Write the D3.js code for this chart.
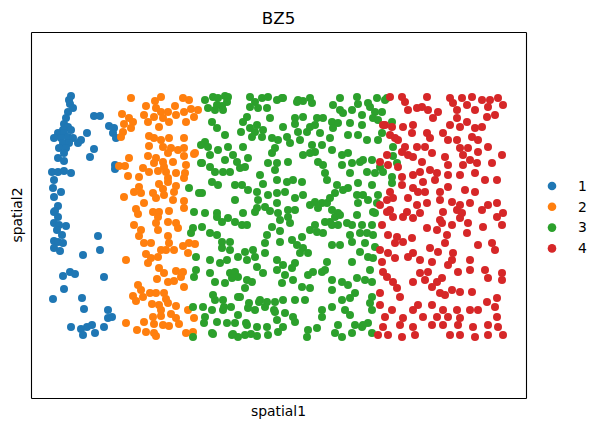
<!DOCTYPE html>
<html>
<head>
<meta charset="utf-8">
<script src="https://cdn.jsdelivr.net/npm/d3@7"></script>
<style>
  body { margin: 0; background: #fff; }
  text { font-family: "DejaVu Sans", sans-serif; fill: #000; }
</style>
</head>
<body>
<div id="chart"></div>
<script>
/* DATA: spatial coordinates per cluster */
const clusters = ["1", "2", "3", "4"];

const cluster1 = [
  [71,96],[69,100],[70,104],[73,108],[68,112],[66,118],[64,124],[68,127],[63,130],[71,130],
  [58,133],[64,133],[54,138],[61,138],[68,137],[73,138],[81,140],[63,143],[69,143],[78,143],
  [59,148],[66,148],[64,153],[58,158],[64,161],[87,133],[94,116],[100,116],[109,126],[114,128],
  [113,133],[116,138],[94,149],[90,157],[115,165],[115,169],[52,172],[58,172],[64,171],[71,173],
  [54,180],[53,188],[61,192],[54,197],[58,206],[55,211],[54,212],[58,217],[54,223],[59,225],
  [66,226],[57,230],[62,235],[54,241],[58,242],[63,243],[54,248],[60,251],[98,236],[100,250],
  [83,255],[63,276],[70,272],[75,274],[104,277],[64,289],[53,299],[82,298],[84,309],[108,310],
  [108,318],[112,317],[71,327],[81,329],[87,327],[92,325],[83,335],[95,333],[104,327]
];

const cluster2 = [
  [131,98],[146,106],[155,101],[161,97],[156,108],[161,112],[168,112],[175,106],[183,98],[189,100],
  [191,109],[184,112],[176,115],[198,110],[194,117],[186,122],[154,117],[163,118],[144,115],[148,122],
  [159,127],[169,122],[122,114],[129,118],[124,124],[133,122],[131,128],[123,132],[121,137],[149,136],
  [154,138],[161,140],[169,138],[184,138],[149,146],[163,147],[171,148],[178,150],[184,148],[168,153],
  [184,156],[194,154],[148,156],[156,158],[129,158],[154,163],[163,162],[173,162],[119,166],[125,166],
  [143,168],[149,172],[158,171],[164,167],[166,172],[176,173],[186,165],[185,173],[128,176],[139,177],
  [168,178],[184,178],[159,184],[168,182],[139,187],[176,186],[134,192],[141,193],[153,193],[163,189],
  [164,195],[174,192],[124,197],[156,198],[144,203],[173,200],[184,201],[136,209],[153,212],[159,212],
  [169,211],[184,208],[138,214],[158,217],[134,225],[156,223],[168,222],[176,223],[141,230],[158,230],
  [178,228],[139,236],[168,236],[144,243],[151,243],[169,243],[161,250],[166,250],[174,250],[183,246],
  [189,243],[195,244],[188,253],[146,254],[151,258],[158,257],[148,263],[126,260],[159,268],[164,273],
  [176,271],[183,272],[157,279],[168,282],[174,281],[181,277],[138,285],[141,290],[133,296],[136,301],
  [143,297],[150,293],[156,293],[164,293],[166,299],[152,304],[159,305],[168,303],[184,287],[176,306],
  [188,310],[161,310],[171,314],[153,317],[161,316],[176,318],[194,318],[144,322],[126,323],[154,324],
  [163,325],[169,326],[179,324],[137,330],[146,332],[154,333],[156,336],[186,333],[193,332],[195,153]
];

const cluster3 = [
  [205,100],[213,97],[218,98],[225,96],[228,97],[227,102],[222,106],[217,105],[215,110],[208,108],
  [223,110],[212,122],[217,128],[225,135],[250,97],[255,102],[262,98],[268,97],[277,100],[282,98],
  [250,107],[258,108],[267,108],[270,118],[247,117],[243,122],[250,128],[257,125],[255,132],[263,130],
  [252,137],[262,137],[241,132],[283,127],[287,137],[290,143],[272,138],[278,140],[297,102],[303,101],
  [310,98],[312,103],[295,118],[303,117],[295,124],[298,132],[307,132],[310,127],[317,118],[323,118],
  [315,125],[320,133],[300,140],[312,145],[322,145],[330,138],[332,122],[338,123],[333,128],[340,98],
  [333,105],[340,110],[343,113],[352,110],[357,97],[358,104],[362,115],[350,123],[358,135],[348,135],
  [205,142],[208,147],[202,163],[210,155],[218,150],[228,147],[243,147],[233,155],[237,162],[225,160],
  [215,172],[210,167],[223,172],[230,172],[240,168],[245,167],[248,158],[212,182],[218,185],[235,185],
  [242,185],[202,193],[235,200],[248,190],[257,192],[263,184],[260,175],[272,153],[275,148],[268,163],
  [277,163],[275,170],[288,162],[277,180],[287,182],[293,180],[302,182],[268,195],[277,193],[258,200],
  [257,208],[265,207],[277,203],[285,192],[295,198],[303,195],[310,205],[315,202],[322,203],[318,208],
  [327,203],[330,198],[337,185],[343,190],[335,193],[348,188],[358,183],[357,195],[358,203],[342,155],
  [348,153],[352,163],[360,162],[350,173],[323,165],[318,162],[315,152],[310,153],[303,155],[325,173],
  [327,180],[332,150],[342,165],[205,213],[217,213],[243,213],[270,211],[288,210],[295,210],[332,210],
  [338,213],[217,217],[222,222],[228,218],[235,222],[242,225],[247,225],[255,212],[278,213],[288,217],
  [290,223],[280,220],[272,227],[280,231],[267,235],[265,243],[280,242],[292,240],[297,245],[302,237],
  [303,248],[300,253],[308,253],[310,230],[315,225],[317,232],[323,233],[325,222],[330,222],[335,217],
  [340,215],[332,225],[338,225],[347,223],[357,215],[352,225],[360,233],[350,235],[352,242],[340,245],
  [332,245],[360,252],[352,262],[202,227],[210,233],[217,235],[222,242],[230,242],[222,248],[230,250],
  [210,260],[220,263],[227,260],[238,257],[245,252],[247,260],[253,250],[255,257],[265,253],[277,260],
  [283,265],[292,268],[295,263],[277,270],[257,267],[230,273],[235,272],[238,277],[232,278],[210,273],
  [247,280],[252,282],[263,273],[285,275],[293,280],[282,283],[302,287],[308,275],[313,272],[322,272],
  [327,262],[325,270],[332,280],[342,282],[348,285],[357,278],[355,293],[350,298],[342,300],[332,290],
  [310,288],[305,300],[295,300],[283,300],[275,302],[260,300],[267,302],[215,282],[225,283],[245,288],
  [240,297],[215,300],[223,300],[203,307],[212,310],[223,310],[238,315],[248,308],[255,310],[265,307],
  [275,312],[285,313],[293,317],[322,310],[332,307],[322,317],[345,310],[350,315],[205,317],[217,322],
  [227,323],[235,323],[247,325],[257,327],[267,327],[277,320],[283,327],[295,322],[308,330],[317,328],
  [338,325],[355,325],[362,327],[212,333],[232,335],[238,337],[245,335],[257,336],[268,335],[307,337],
  [335,333],[342,337],[352,333],[189,188],[199,193],[194,212],[201,145],[201,163],[193,228],[191,233],
  [196,257],[196,270],[194,277],[193,307],[193,337],[213,334],[233,334],[251,334],[278,332],[204,323],
  [213,295],[224,307],[231,307],[238,297],[249,303],[259,302],[274,310],[246,323],[283,98],[298,100],
  [377,98],[385,100],[370,107],[375,112],[382,112],[373,118],[378,120],[392,122],[362,125],[382,133],
  [367,140],[378,140],[393,147],[393,156],[363,160],[372,160],[397,163],[380,167],[367,172],[375,173],
  [383,172],[392,177],[392,183],[372,185],[363,195],[368,200],[378,195],[377,203],[373,212],[375,213],
  [362,225],[372,225],[367,233],[373,235],[365,243],[375,247],[368,257],[373,258],[370,270],[365,280],
  [372,282],[372,297],[370,303],[372,310],[368,323],[372,333],[363,325],[368,103],[387,98]
];

const cluster4 = [
  [390,97],[402,97],[405,102],[408,110],[417,108],[422,107],[428,110],[427,97],[438,112],[433,118],
  [450,98],[453,103],[462,98],[472,97],[467,105],[457,110],[475,110],[482,100],[490,100],[498,98],
  [503,105],[488,107],[495,115],[487,117],[457,118],[450,125],[460,127],[467,122],[475,128],[482,127],
  [385,125],[392,127],[403,127],[413,125],[412,133],[398,140],[390,135],[427,133],[430,138],[443,133],
  [448,140],[457,140],[472,137],[478,140],[425,147],[417,147],[405,147],[402,152],[408,155],[413,157],
  [387,155],[380,162],[388,165],[398,167],[422,162],[432,153],[445,157],[448,165],[460,148],[463,155],
  [468,148],[478,152],[488,147],[502,155],[492,163],[477,163],[470,160],[463,165],[475,173],[460,175],
  [430,170],[420,172],[413,175],[402,177],[437,173],[448,175],[423,182],[435,180],[402,185],[413,188],
  [418,192],[425,192],[440,192],[448,187],[465,190],[475,192],[497,180],[485,180],[390,192],[387,200],
  [393,198],[408,198],[417,205],[427,203],[440,200],[452,202],[460,205],[470,203],[488,205],[497,203],
  [380,205],[390,210],[407,212],[443,212],[457,210],[482,210],[503,213],[387,212],[393,217],[403,217],
  [413,218],[420,213],[440,220],[452,225],[460,218],[468,223],[462,213],[483,227],[497,217],[502,225],
  [382,225],[388,235],[397,237],[403,242],[412,238],[395,243],[380,250],[388,253],[395,258],[408,257],
  [413,253],[420,260],[432,262],[430,248],[438,252],[445,243],[453,253],[452,260],[448,265],[458,272],
  [470,260],[478,245],[492,243],[495,250],[467,233],[447,235],[437,230],[427,228],[442,223],[382,262],
  [383,272],[387,277],[393,282],[397,288],[400,297],[413,282],[420,273],[428,272],[425,280],[437,282],
  [442,278],[432,287],[440,293],[445,295],[452,290],[460,292],[472,292],[470,270],[485,270],[488,278],
  [502,273],[502,280],[487,302],[497,298],[495,307],[497,317],[470,310],[478,310],[473,327],[488,325],
  [498,327],[503,335],[380,293],[380,305],[385,317],[392,310],[403,318],[413,310],[418,305],[432,305],
  [423,317],[437,317],[448,317],[443,310],[457,310],[460,318],[458,325],[443,325],[432,325],[413,327],
  [400,325],[383,327],[388,335],[402,337],[415,335],[450,335],[460,335],[475,337],[488,335],[378,335],
  [383,125],[395,138]
];

const clusterColors = ["#1f77b4", "#ff7f0e", "#2ca02c", "#d62728"];

/* CONSTANTS */
const width = 601,
  height = 431,
  margin = { top: 32, bottom: 33, left: 31, right: 75 },
  radius = 4;

// axis limits in spatial units (like set_xlim / set_ylim)
const xLim = [31, 526];
const yLim = [32, 398];

const svg = d3.select("#chart")
  .append("svg")
  .attr("width", width)
  .attr("height", height);

const xScale = d3.scaleLinear()
  .domain(xLim)
  .range([margin.left, width - margin.right]);

// spatial2 grows downward, like an image
const yScale = d3.scaleLinear()
  .domain(yLim)
  .range([margin.top, height - margin.bottom]);

const colorScale = d3.scaleOrdinal()
  .domain(clusters)
  .range(clusterColors);

const points = [cluster1, cluster2, cluster3, cluster4]
  .flatMap((arr, i) => arr.map(d => ({ x: d[0], y: d[1], cluster: clusters[i] })));

// dots
svg.append("g")
  .selectAll("circle")
  .data(points)
  .join("circle")
  .attr("cx", d => xScale(d.x))
  .attr("cy", d => yScale(d.y))
  .attr("r", radius)
  .attr("fill", d => colorScale(d.cluster));

// frame: axes with no ticks
const x0 = margin.left, x1 = width - margin.right;
const y0 = margin.top, y1 = height - margin.bottom;
svg.append("g").attr("transform", `translate(0,${y1})`)
  .call(d3.axisBottom(xScale).tickValues([]).tickSizeOuter(0));
svg.append("g").attr("transform", `translate(0,${y0})`)
  .call(d3.axisTop(xScale).tickValues([]).tickSizeOuter(0));
svg.append("g").attr("transform", `translate(${x0},0)`)
  .call(d3.axisLeft(yScale).tickValues([]).tickSizeOuter(0));
svg.append("g").attr("transform", `translate(${x1},0)`)
  .call(d3.axisRight(yScale).tickValues([]).tickSizeOuter(0));
svg.selectAll(".domain").attr("stroke", "#000").attr("stroke-width", 1.1);

// title and labels
svg.append("text")
  .attr("x", (x0 + x1) / 2)
  .attr("y", 24)
  .attr("text-anchor", "middle")
  .style("font-size", "16.7px")
  .text("BZ5");

svg.append("text")
  .attr("x", (x0 + x1) / 2)
  .attr("y", y1 + 18)
  .attr("text-anchor", "middle")
  .style("font-size", "13.9px")
  .text("spatial1");

svg.append("text")
  .attr("transform", `translate(${x0 - 9},${(y0 + y1) / 2}) rotate(-90)`)
  .attr("text-anchor", "middle")
  .style("font-size", "13.9px")
  .text("spatial2");

// legend
const legend = svg.append("g")
  .selectAll("g")
  .data(clusters)
  .join("g")
  .attr("transform", (d, i) => `translate(552,${186 + i * 20.8})`);

legend.append("circle")
  .attr("r", 4.3)
  .attr("fill", d => colorScale(d));

legend.append("text")
  .attr("x", 26)
  .attr("dy", "0.35em")
  .style("font-size", "13.9px")
  .text(d => d);
</script>
</body>
</html>
